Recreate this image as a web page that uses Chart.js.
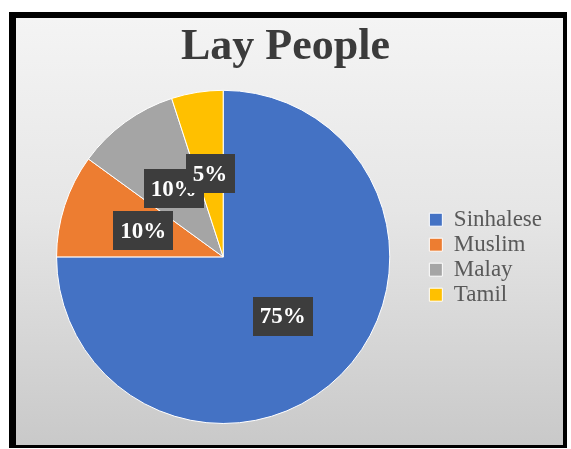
<!DOCTYPE html>
<html>
<head>
<meta charset="utf-8">
<script src="https://cdn.jsdelivr.net/npm/chart.js@4.4.1/dist/chart.umd.min.js"></script>
<style>
  html, body { margin: 0; padding: 0; background: #fff; }
  #frame {
    position: absolute; left: 9px; top: 12px;
    width: 547px; height: 427px;
    border-style: solid; border-color: #000;
    border-width: 6px 4px 3px 7px;
    background: linear-gradient(180deg, #f4f4f4 0%, #e6e6e6 45%, #c9c9c9 100%);
  }
  #frame canvas { display: block; }
</style>
</head>
<body>
<div id="frame"><canvas id="layChart" width="547" height="427"></canvas></div>
<script>
const groups = ['Sinhalese', 'Muslim', 'Malay', 'Tamil'];
const shares = [75, 10, 10, 5];
const sliceColors = ['#4472C4', '#ED7D31', '#A5A5A5', '#FFC000'];

// dark boxes with the percentage, halfway out along each slice
const boxLabels = {
  id: 'boxLabels',
  afterDatasetsDraw(chart) {
    const ctx = chart.ctx;
    const meta = chart.getDatasetMeta(0);
    ctx.save();
    ctx.font = 'bold 23px "Liberation Serif", serif';
    ctx.textAlign = 'center';
    ctx.textBaseline = 'middle';
    meta.data.forEach((arc, i) => {
      const mid = (arc.startAngle + arc.endAngle) / 2;
      const r = arc.outerRadius * 0.505;
      const x = arc.x + Math.cos(mid) * r;
      const y = arc.y + Math.sin(mid) * r;
      const text = shares[i] + '%';
      const w = ctx.measureText(text).width + 14;
      const h = 39;
      ctx.fillStyle = '#3d3d3d';
      ctx.fillRect(Math.round(x - w / 2), Math.round(y - h / 2), Math.round(w), h);
      ctx.fillStyle = '#ffffff';
      ctx.fillText(text, x, y + 1);
    });
    ctx.restore();
  }
};

new Chart(document.getElementById('layChart'), {
  type: 'pie',
  data: {
    labels: groups,
    datasets: [{
      data: shares,
      backgroundColor: sliceColors,
      borderColor: '#ffffff',
      borderWidth: 1
    }]
  },
  options: {
    responsive: false,
    animation: false,
    layout: { padding: { left: 3, right: 11, top: 0, bottom: 21 } },
    plugins: {
      title: {
        display: true,
        text: 'Lay People',
        color: '#3b3b3b',
        font: { family: '"Liberation Serif", serif', size: 44, weight: 'bold' },
        padding: { top: 3, bottom: 16 }
      },
      legend: {
        position: 'right',
        title: { display: true, text: '', padding: { top: 58, bottom: 0 } },
        labels: {
          color: '#595959',
          font: { family: '"Liberation Serif", serif', size: 23 },
          boxWidth: 13,
          boxHeight: 13,
          padding: 2
        }
      },
      tooltip: { enabled: false }
    }
  },
  plugins: [boxLabels]
});
</script>
</body>
</html>
